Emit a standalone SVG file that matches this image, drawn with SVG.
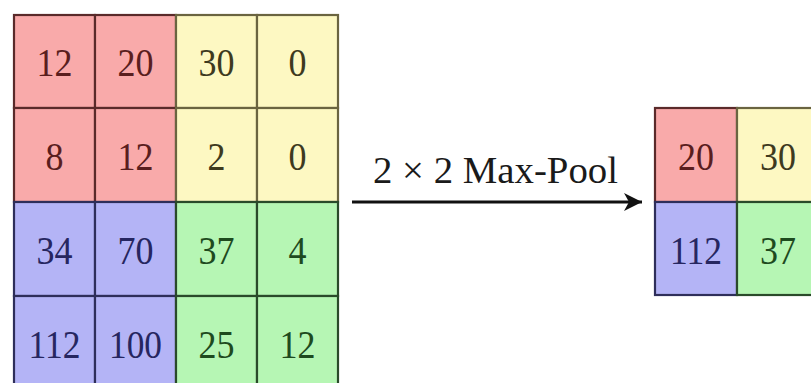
<svg xmlns="http://www.w3.org/2000/svg" width="811" height="383" viewBox="0 0 811 383">
<style>
  text { font-family: "Liberation Serif", "DejaVu Serif", serif; font-size: 41px; text-anchor: middle; }
  .r rect { fill: #f9aaaa; stroke: #5a2a2a; stroke-width: 2.2; }
  .r text { fill: #5a1e1e; }
  .y rect { fill: #fdf8c2; stroke: #6a6440; stroke-width: 2.2; }
  .y text { fill: #3e3a1e; }
  .b rect { fill: #b4b4f6; stroke: #2e2e5a; stroke-width: 2.2; }
  .b text { fill: #262660; }
  .g rect { fill: #b6f6b4; stroke: #2a4a2a; stroke-width: 2.2; }
  .g text { fill: #1e4a1e; }
  .lbl { font-size: 38px; fill: #1a1a1a; text-anchor: start; }
</style>
<defs>
  <marker id="ah" markerWidth="20" markerHeight="20" refX="18" refY="10" orient="auto" markerUnits="userSpaceOnUse" viewBox="0 0 20 20">
    <path d="M0,1 L18,10 L0,19 L5,10 Z" fill="#111"/>
  </marker>
</defs>
<rect width="811" height="383" fill="#ffffff"/>
<!-- input grid -->
<g id="in-0-0" class="r"><rect x="14" y="15" width="81" height="93"/><text x="54.5" y="76" textLength="36" lengthAdjust="spacingAndGlyphs">12</text></g>
<g id="in-0-1" class="r"><rect x="95" y="15" width="81" height="93"/><text x="135.5" y="76" textLength="36" lengthAdjust="spacingAndGlyphs">20</text></g>
<g id="in-0-2" class="y"><rect x="176" y="15" width="81" height="93"/><text x="216.5" y="76" textLength="36" lengthAdjust="spacingAndGlyphs">30</text></g>
<g id="in-0-3" class="y"><rect x="257" y="15" width="81" height="93"/><text x="297.5" y="76" textLength="18" lengthAdjust="spacingAndGlyphs">0</text></g>
<g id="in-1-0" class="r"><rect x="14" y="108" width="81" height="94"/><text x="54.5" y="170" textLength="18" lengthAdjust="spacingAndGlyphs">8</text></g>
<g id="in-1-1" class="r"><rect x="95" y="108" width="81" height="94"/><text x="135.5" y="170" textLength="36" lengthAdjust="spacingAndGlyphs">12</text></g>
<g id="in-1-2" class="y"><rect x="176" y="108" width="81" height="94"/><text x="216.5" y="170" textLength="18" lengthAdjust="spacingAndGlyphs">2</text></g>
<g id="in-1-3" class="y"><rect x="257" y="108" width="81" height="94"/><text x="297.5" y="170" textLength="18" lengthAdjust="spacingAndGlyphs">0</text></g>
<g id="in-2-0" class="b"><rect x="14" y="202" width="81" height="94"/><text x="54.5" y="264" textLength="36" lengthAdjust="spacingAndGlyphs">34</text></g>
<g id="in-2-1" class="b"><rect x="95" y="202" width="81" height="94"/><text x="135.5" y="264" textLength="36" lengthAdjust="spacingAndGlyphs">70</text></g>
<g id="in-2-2" class="g"><rect x="176" y="202" width="81" height="94"/><text x="216.5" y="264" textLength="36" lengthAdjust="spacingAndGlyphs">37</text></g>
<g id="in-2-3" class="g"><rect x="257" y="202" width="81" height="94"/><text x="297.5" y="264" textLength="18" lengthAdjust="spacingAndGlyphs">4</text></g>
<g id="in-3-0" class="b"><rect x="14" y="296" width="81" height="94"/><text x="54.5" y="358" textLength="52" lengthAdjust="spacingAndGlyphs">112</text></g>
<g id="in-3-1" class="b"><rect x="95" y="296" width="81" height="94"/><text x="135.5" y="358" textLength="53" lengthAdjust="spacingAndGlyphs">100</text></g>
<g id="in-3-2" class="g"><rect x="176" y="296" width="81" height="94"/><text x="216.5" y="358" textLength="36" lengthAdjust="spacingAndGlyphs">25</text></g>
<g id="in-3-3" class="g"><rect x="257" y="296" width="81" height="94"/><text x="297.5" y="358" textLength="36" lengthAdjust="spacingAndGlyphs">12</text></g>
<!-- output grid -->
<g id="out-0-0" class="r"><rect x="655" y="108" width="82" height="94"/><text x="696" y="170" textLength="36" lengthAdjust="spacingAndGlyphs">20</text></g>
<g id="out-0-1" class="y"><rect x="737" y="108" width="82" height="94"/><text x="778" y="170" textLength="36" lengthAdjust="spacingAndGlyphs">30</text></g>
<g id="out-1-0" class="b"><rect x="655" y="202" width="82" height="93"/><text x="696" y="264" textLength="52" lengthAdjust="spacingAndGlyphs">112</text></g>
<g id="out-1-1" class="g"><rect x="737" y="202" width="82" height="93"/><text x="778" y="264" textLength="36" lengthAdjust="spacingAndGlyphs">37</text></g>
<!-- connectors -->
<g id="connectors">
  <line x1="352" y1="202" x2="642" y2="202" stroke="#111" stroke-width="3.2" marker-end="url(#ah)"/>
  <text class="lbl" x="373" y="183" textLength="245" lengthAdjust="spacingAndGlyphs">2 × 2 Max-Pool</text>
</g>
</svg>
